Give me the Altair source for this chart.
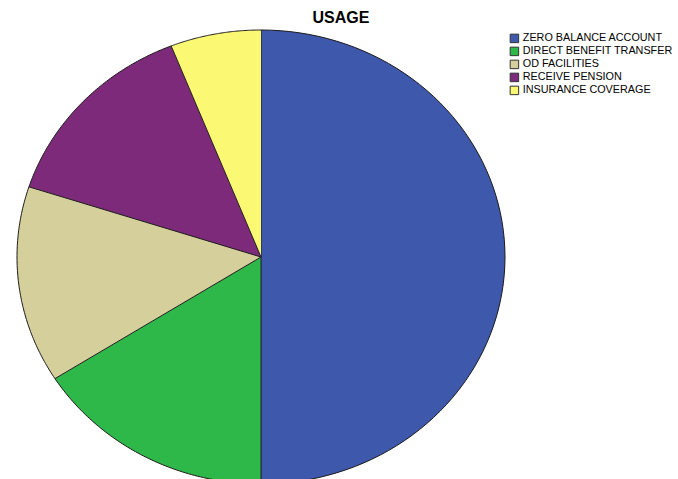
import altair as alt
import pandas as pd

categories = ["ZERO BALANCE ACCOUNT", "DIRECT BENEFIT TRANSFER", "OD FACILITIES",
              "RECEIVE PENSION", "INSURANCE COVERAGE"]
values = [50, 16, 14, 14, 6]
colors = ["#3e58ac", "#2eb84a", "#d4cf9b", "#7e2a7a", "#fbf873"]

df = pd.DataFrame({"category": categories, "value": values, "order": list(range(len(values)))})

W, H = 678, 479
CX, CY, RX, RY = 261, 257, 244, 227
xdom = [-CX / RX, (W - CX) / RX]
ydom = [-(H - CY) / RY, CY / RY]
N = 80

base = (
    alt.Chart(df)
    .transform_joinaggregate(total="sum(value)")
    .transform_window(cum="sum(value)", sort=[alt.SortField("order")], frame=[None, 0])
    .transform_calculate(
        a1="2*PI*datum.cum/datum.total",
        a0="2*PI*(datum.cum-datum.value)/datum.total",
        idx=f"sequence(-1, {N + 1})",
    )
    .transform_flatten(["idx"])
    .transform_calculate(
        px="datum.idx < 0 ? 0 : sin(datum.a0 + (datum.a1-datum.a0)*datum.idx/" + str(N) + ")",
        py="datum.idx < 0 ? 0 : cos(datum.a0 + (datum.a1-datum.a0)*datum.idx/" + str(N) + ")",
    )
)

pie = base.mark_line(stroke="#1a1a1a", strokeWidth=1, clip=True, interpolate="linear").encode(
    x=alt.X("px:Q", scale=alt.Scale(domain=xdom, nice=False, zero=False), axis=None),
    y=alt.Y("py:Q", scale=alt.Scale(domain=ydom, nice=False, zero=False), axis=None),
    order=alt.Order("idx:Q"),
    detail="category:N",
    fill=alt.Fill(
        "category:N",
        scale=alt.Scale(domain=categories, range=colors),
        legend=alt.Legend(
            title=None, orient="none", legendX=509, legendY=33,
            symbolType="square", symbolSize=72, symbolStrokeColor="#333333",
            symbolStrokeWidth=1, symbolOpacity=1,
            labelFont="Liberation Sans", labelFontSize=10.8, labelColor="#000000",
            rowPadding=0, labelOffset=3, labelLimit=200,
        ),
    ),
)

title = alt.Chart(pd.DataFrame({"t": ["USAGE"]})).mark_text(
    font="Liberation Sans", fontSize=16, fontWeight="bold", color="#000000"
).encode(text="t:N", x=alt.value(341), y=alt.value(18))

chart = (
    alt.layer(pie, title)
    .properties(width=W, height=H, padding=0, autosize=alt.AutoSizeParams(type="none"))
    .configure_view(stroke=None)
)

chart.save("out.html", embed_options={"renderer": "svg", "actions": False})
